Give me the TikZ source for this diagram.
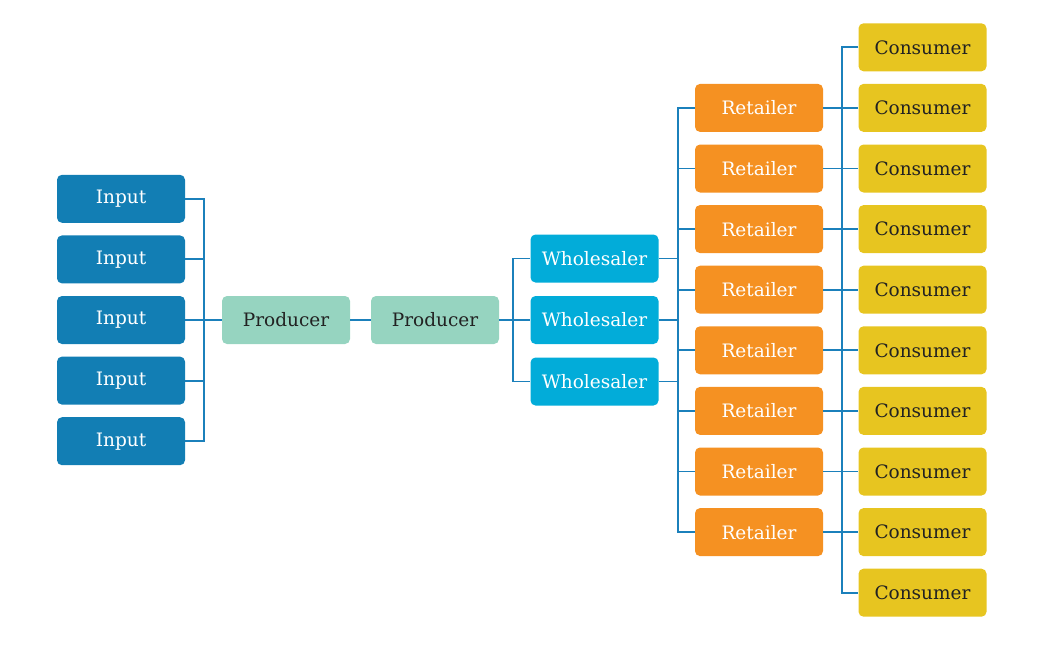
\documentclass[tikz,border=0pt]{standalone}
\usepackage{fontspec}
\setmainfont{DejaVu Serif}
\usetikzlibrary{calc}

\definecolor{inputblue}{HTML}{127EB4}
\definecolor{prodgreen}{HTML}{96D4C0}
\definecolor{wholeblue}{HTML}{02ACD9}
\definecolor{retailorange}{HTML}{F59122}
\definecolor{consyellow}{HTML}{E7C520}
\definecolor{linkblue}{HTML}{1B80BB}
\definecolor{darktext}{HTML}{222222}

\begin{document}
\begin{tikzpicture}[x=1pt,y=-1pt,
  box/.style={rounded corners=5pt, minimum width=128pt, minimum height=48pt,
    inner sep=0pt, font=\fontsize{18.5}{22}\selectfont},
  link/.style={draw=linkblue, line width=1.9pt}]
\useasboundingbox (0,0) rectangle (1056,648);

\foreach \i in {1,...,5}
  \node[box, fill=inputblue, text=white] (in\i) at (121,{320+(\i-3)*60.6}) {Input};
\node[box, fill=prodgreen, text=darktext] (prodA) at (286,320) {Producer};
\node[box, fill=prodgreen, text=darktext] (prodB) at (435,320) {Producer};
\foreach \i in {1,2,3}
  \node[box, fill=wholeblue, text=white] (ws\i) at (594.5,{320+(\i-2)*61.5}) {Wholesaler};
\foreach \i in {1,...,8}
  \node[box, fill=retailorange, text=white] (rt\i) at (759,{320+(\i-4.5)*60.6}) {Retailer};
\foreach \i in {1,...,10}
  \node[box, fill=consyellow, text=darktext] (cs\i) at (922.5,{320+(\i-5.5)*60.6}) {Consumer};

\foreach \i in {1,...,5}
  \draw[link] (in\i.east) -- ++(19,0) |- (prodA.west);
\draw[link] (prodA.east) -- (prodB.west);
\foreach \i in {1,2,3}
  \draw[link] (prodB.east) -- ++(14,0) |- (ws\i.west);

\draw[link] (rt1.west) -- ++(-17,0) |- (rt8.west);
\foreach \i in {2,...,7}
  \draw[link] (rt\i.west) -- ++(-17,0);
\foreach \i in {1,2,3}
  \draw[link] (ws\i.east) -- ([xshift=-17pt]ws\i.east -| rt1.west);

\draw[link] (cs1.west) -- ++(-16,0) |- (cs10.west);
\foreach \i [evaluate=\i as \j using int(\i+1)] in {1,...,8}
  \draw[link] (rt\i.east) -- (cs\j.west);
\end{tikzpicture}
\end{document}
